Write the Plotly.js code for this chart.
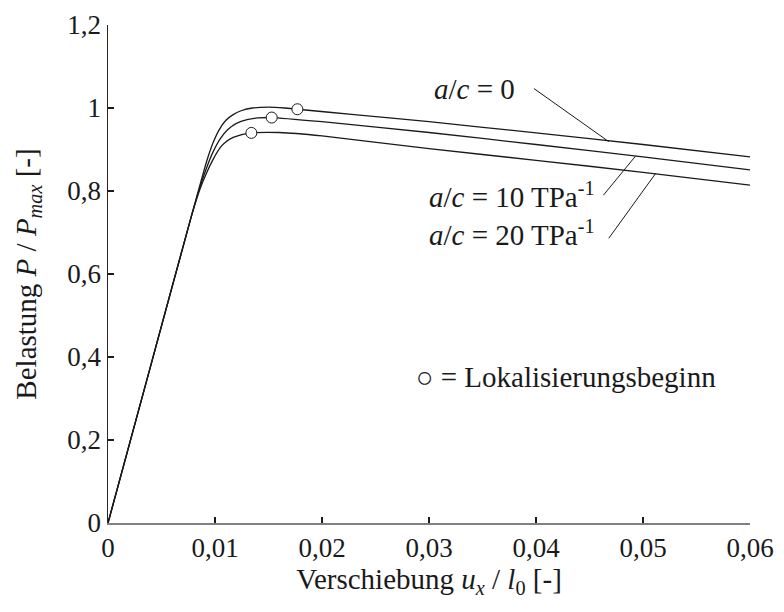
<!DOCTYPE html>
<html>
<head>
<meta charset="utf-8">
<script src="https://cdn.plot.ly/plotly-3.0.1.min.js"></script>
<style>html,body{margin:0;padding:0;background:#fff;}</style>
</head>
<body>
<div id="chart" style="width:784px;height:612px;"></div>
<script>
// Curve a/c = 0
const x_ac0 = [0, 0.004, 0.0078, 0.0086, 0.0092, 0.0098, 0.0104, 0.011, 0.0117, 0.0125, 0.0135, 0.015, 0.0165, 0.0177, 0.023, 0.03, 0.04, 0.05, 0.06];
const y_ac0 = [0, 0.38, 0.74, 0.815, 0.87, 0.915, 0.948, 0.970, 0.984, 0.994, 1.0, 1.002, 1.0, 0.997, 0.984, 0.967, 0.940, 0.912, 0.882];
// Curve a/c = 10 TPa^-1
const x_ac10 = [0, 0.004, 0.0078, 0.0086, 0.0092, 0.0098, 0.0105, 0.0112, 0.012, 0.013, 0.014, 0.0153, 0.02, 0.03, 0.04, 0.05, 0.06];
const y_ac10 = [0, 0.38, 0.74, 0.81, 0.855, 0.893, 0.926, 0.948, 0.963, 0.972, 0.976, 0.977, 0.967, 0.941, 0.912, 0.882, 0.851];
// Curve a/c = 20 TPa^-1
const x_ac20 = [0, 0.004, 0.0078, 0.0086, 0.0092, 0.0098, 0.0105, 0.011, 0.0117, 0.0125, 0.0134, 0.016, 0.02, 0.03, 0.04, 0.05, 0.06];
const y_ac20 = [0, 0.38, 0.74, 0.805, 0.843, 0.875, 0.905, 0.918, 0.929, 0.936, 0.940, 0.941, 0.933, 0.902, 0.874, 0.845, 0.814];
// Localisation onset markers
const x_lok = [0.0177, 0.0153, 0.0134];
const y_lok = [0.997, 0.977, 0.940];

// Tick labels
const xTickVals = [0, 0.01, 0.02, 0.03, 0.04, 0.05, 0.06];
const xTickText = ['0', '0,01', '0,02', '0,03', '0,04', '0,05', '0,06'];
const yTickVals = [0, 0.2, 0.4, 0.6, 0.8, 1, 1.2];
const yTickText = ['0', '0,2', '0,4', '0,6', '0,8', '1', '1,2'];

// Curve labels and leader lines [x0, y0, x1, y1]
const labelTexts = ['<i>a</i>/<i>c</i> = 0', '<i>a</i>/<i>c</i> = 10 TPa<sup>-1</sup>', '<i>a</i>/<i>c</i> = 20 TPa<sup>-1</sup>'];
const labelX = [0.0382, 0.0457, 0.0457];
const labelY = [1.047, 0.79, 0.698];
const leaders = [
  [0.0398, 1.047, 0.0468, 0.919],
  [0.0463, 0.790, 0.0493, 0.884],
  [0.0468, 0.686, 0.0512, 0.843]
];
const noteText = '○ = Lokalisierungsbeginn';

const lineStyle = {color: '#1a1a1a', width: 1.3, shape: 'spline', smoothing: 0.5};
const font = '"Liberation Serif", "Times New Roman", Times, "DejaVu Serif", serif';

const traces = [
  {x: x_ac0, y: y_ac0, mode: 'lines', line: lineStyle, hoverinfo: 'skip'},
  {x: x_ac10, y: y_ac10, mode: 'lines', line: lineStyle, hoverinfo: 'skip'},
  {x: x_ac20, y: y_ac20, mode: 'lines', line: lineStyle, hoverinfo: 'skip'},
  {x: x_lok, y: y_lok, mode: 'markers', marker: {symbol: 'circle', size: 11, color: '#ffffff', line: {color: '#1a1a1a', width: 1}}, hoverinfo: 'skip'}
];

const annotations = labelTexts.map((t, i) => ({
  x: labelX[i], y: labelY[i], xref: 'x', yref: 'y', text: t, showarrow: false,
  xanchor: 'right', yanchor: 'middle', font: {family: font, size: 29, color: '#1a1a1a'}
}));
annotations.push({
  x: 0.0286, y: 0.352, xref: 'x', yref: 'y', text: noteText, showarrow: false,
  xanchor: 'left', yanchor: 'middle', font: {family: font, size: 29, color: '#1a1a1a'}
});

const shapes = leaders.map(l => ({
  type: 'line', xref: 'x', yref: 'y', x0: l[0], y0: l[1], x1: l[2], y1: l[3],
  line: {color: '#1a1a1a', width: 1}
}));

const layout = {
  width: 784, height: 612,
  margin: {l: 108, r: 34, t: 25, b: 89},
  paper_bgcolor: '#ffffff', plot_bgcolor: '#ffffff',
  showlegend: false,
  font: {family: font, color: '#1a1a1a', size: 27},
  xaxis: {
    range: [0, 0.06], tickvals: xTickVals, ticktext: xTickText,
    showgrid: false, zeroline: false, showline: true, linecolor: '#808080', linewidth: 2,
    ticks: 'inside', ticklen: 6, tickwidth: 2, tickcolor: '#1a1a1a',
    tickfont: {family: font, size: 27, color: '#1a1a1a'},
    title: {text: 'Verschiebung <i>u</i><sub><i>x</i></sub> / <i>l</i><sub>0</sub> [-]', font: {family: font, size: 29, color: '#1a1a1a'}, standoff: 6},
    automargin: false, fixedrange: true
  },
  yaxis: {
    range: [0, 1.2], tickvals: yTickVals, ticktext: yTickText,
    showgrid: false, zeroline: false, showline: true, linecolor: '#2a2420', linewidth: 1.5,
    ticks: 'inside', ticklen: 6, tickwidth: 2, tickcolor: '#1a1a1a',
    tickfont: {family: font, size: 27, color: '#1a1a1a'},
    title: {text: 'Belastung <i>P</i> / <i>P</i><sub><i>max</i></sub> [-]', font: {family: font, size: 29, color: '#1a1a1a'}, standoff: 22},
    automargin: false, fixedrange: true
  },
  annotations: annotations,
  shapes: shapes
};

Plotly.newPlot('chart', traces, layout, {displayModeBar: false, staticPlot: true});
</script>
</body>
</html>
